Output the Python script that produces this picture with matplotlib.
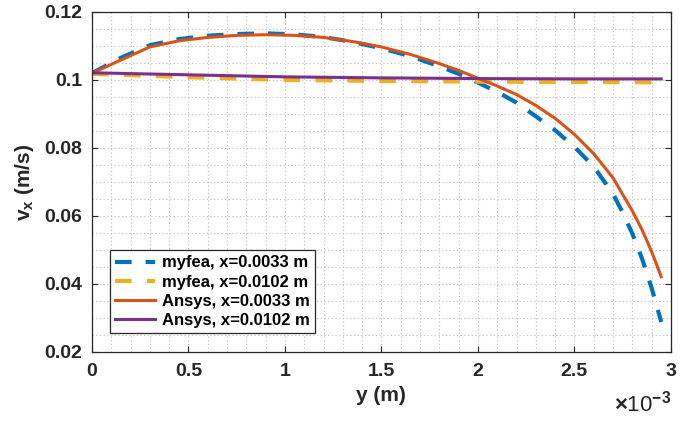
import matplotlib
matplotlib.use("Agg")
import matplotlib.pyplot as plt
from matplotlib.ticker import MultipleLocator, FuncFormatter

# y positions (in units of 1e-3 m) and velocities v_x (m/s)
y_fea_33 = [0, 0.15, 0.3, 0.45, 0.6, 0.75, 0.9, 1.05, 1.2, 1.35, 1.5, 1.65, 1.8, 1.9, 2.0,
            2.1, 2.2, 2.3, 2.4, 2.5, 2.6, 2.7, 2.75, 2.8, 2.85, 2.9, 2.95]
v_fea_33 = [0.1020, 0.1065, 0.1102, 0.1120, 0.1130, 0.1135, 0.1137, 0.1134, 0.1126, 0.1112,
            0.1093, 0.1070, 0.1040, 0.1018, 0.0992, 0.0965, 0.0933, 0.0893, 0.0852, 0.0803,
            0.0745, 0.0665, 0.0610, 0.0548, 0.0475, 0.0388, 0.0288]

y_fea_102 = [0, 0.5, 1.0, 1.5, 2.0, 2.5, 2.95]
v_fea_102 = [0.1018, 0.1008, 0.1000, 0.0997, 0.0995, 0.0994, 0.0993]

y_ans_33 = [0, 0.3, 0.45, 0.6, 0.75, 0.9, 1.05, 1.2, 1.35, 1.5, 1.65, 1.8, 1.9, 2.0,
            2.1, 2.2, 2.3, 2.4, 2.5, 2.6, 2.7, 2.8, 2.85, 2.9, 2.95]
v_ans_33 = [0.1020, 0.1097, 0.1115, 0.1125, 0.1131, 0.1133, 0.1131, 0.1125, 0.1113, 0.1097,
            0.1075, 0.1048, 0.1028, 0.1005, 0.0982, 0.0957, 0.0925, 0.0887, 0.0840, 0.0783,
            0.0712, 0.0615, 0.0560, 0.0495, 0.0421]

y_ans_102 = [0, 0.5, 1.0, 1.5, 2.0, 2.5, 2.95]
v_ans_102 = [0.1021, 0.1015, 0.1009, 0.1006, 0.1004, 0.1003, 0.1003]

labels = ["myfea, x=0.0033 m", "myfea, x=0.0102 m", "Ansys, x=0.0033 m", "Ansys, x=0.0102 m"]

plt.rcParams["font.family"] = ["Liberation Sans", "DejaVu Sans"]
plt.rcParams["font.weight"] = "bold"
plt.rcParams["axes.labelweight"] = "bold"
plt.rcParams["mathtext.fontset"] = "custom"
plt.rcParams["mathtext.rm"] = "Liberation Sans"
plt.rcParams["mathtext.bf"] = "Liberation Sans:bold"
plt.rcParams["lines.scale_dashes"] = False

fig = plt.figure(figsize=(6.86, 4.26), dpi=100)
ax = fig.add_axes([0.134, 0.174, 0.844, 0.798])

ax.plot(y_fea_33, v_fea_33, color="#0072BD", lw=3, dashes=(12, 10), label=labels[0])
ax.plot(y_fea_102, v_fea_102, color="#EDB120", lw=3, dashes=(12, 11), label=labels[1])
ax.plot(y_ans_33, v_ans_33, color="#D95319", lw=2.2, label=labels[2])
ax.plot(y_ans_102, v_ans_102, color="#7E2F8E", lw=2.2, label=labels[3])

ax.set_xlim(0, 3)
ax.set_ylim(0.02, 0.12)
ax.xaxis.set_major_locator(MultipleLocator(0.5))
ax.xaxis.set_minor_locator(MultipleLocator(0.1))
ax.yaxis.set_major_locator(MultipleLocator(0.02))
ax.yaxis.set_minor_locator(MultipleLocator(0.005))
ax.xaxis.set_major_formatter(FuncFormatter(lambda v, _: f"{v:g}"))
ax.yaxis.set_major_formatter(FuncFormatter(lambda v, _: f"{v:g}"))

ax.grid(which="both", linestyle=":", color="#c8c8c8", lw=0.8)
ax.set_axisbelow(True)
ax.tick_params(which="major", direction="in", top=True, right=True, length=4,
               labelsize=14, colors="#262626", width=0.8)
ax.tick_params(axis="x", pad=8)
ax.tick_params(axis="y", pad=7)
ax.tick_params(which="minor", length=0)
for s in ax.spines.values():
    s.set_color("#262626")
    s.set_linewidth(0.9)

ax.set_xlabel("y (m)", fontsize=15, color="#262626", labelpad=4)
ax.set_ylabel(r"v$_{\mathbf{x}}$ (m/s)", fontsize=15, color="#262626", labelpad=6)
ax.text(1.0, -0.175, r"$\times$10$^{\mathrm{-3}}$", transform=ax.transAxes, ha="right",
        fontsize=16, fontweight="normal", color="#262626")

leg = ax.legend(loc="lower left", bbox_to_anchor=(0.032, 0.056), borderaxespad=0,
                fontsize=12, handlelength=2.4, handletextpad=0.4, labelspacing=0.25,
                borderpad=0.3, fancybox=False, framealpha=1)
leg.get_frame().set_edgecolor("#262626")
leg.get_frame().set_linewidth(0.9)

fig.savefig("out.png", dpi=100)
